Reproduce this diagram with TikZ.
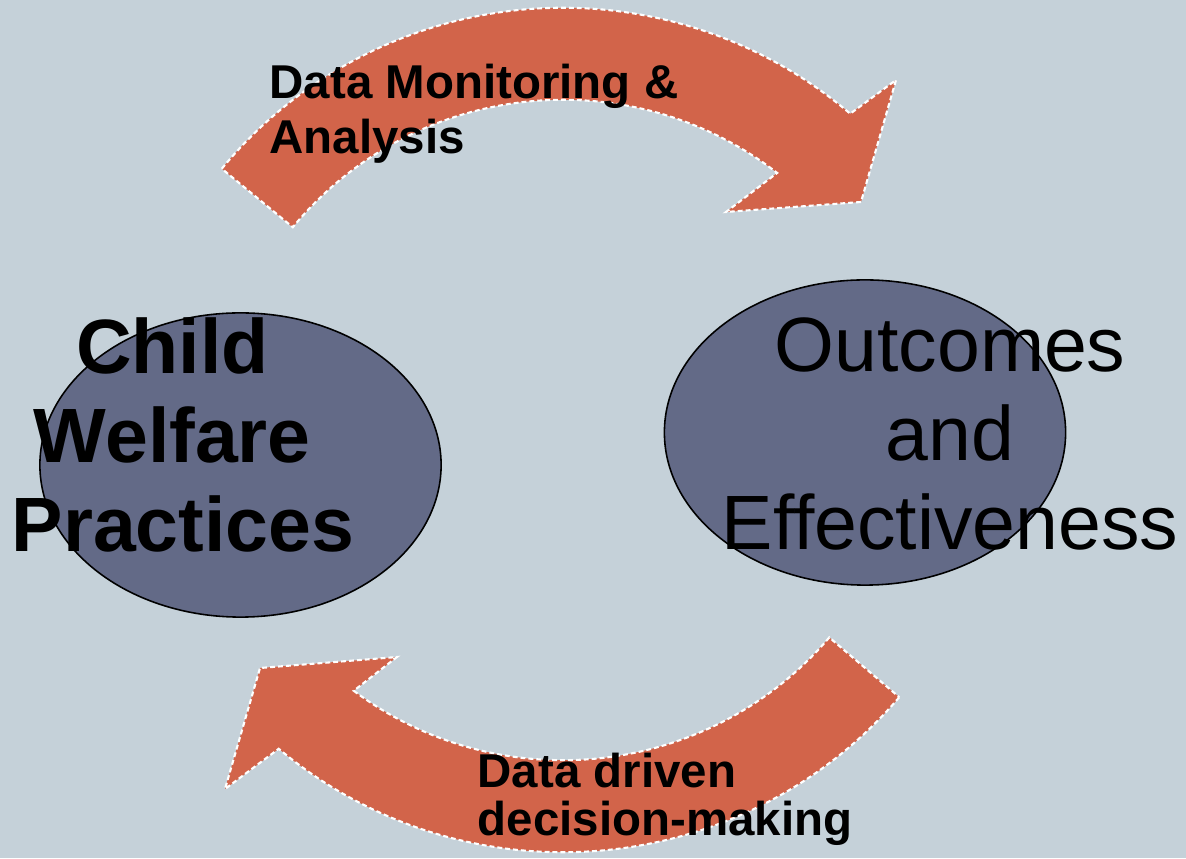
\documentclass[tikz,border=0pt]{standalone}
\usepackage{fontspec}
\setmainfont{Liberation Sans}
\usepackage{xcolor}
\usepackage{tikz}
\usetikzlibrary{calc}
\definecolor{slidebg}{HTML}{C5D1D9}
\definecolor{looprust}{HTML}{D2644A}
\definecolor{slatedark}{HTML}{636A87}

\begin{document}
\begin{tikzpicture}[x=0.01cm,y=0.01cm,
  looparrow/.style={fill=looprust,draw=white,line width=0.6pt,dash pattern=on 1.4pt off 0.85pt},
  blob/.style={fill=slatedark,draw=black,line width=0.45pt},
  bigtext/.style={inner sep=0pt,align=center,font=\fontsize{21.9}{25.3}\selectfont},
  bigbold/.style={bigtext,font=\bfseries\fontsize{21.9}{25.3}\selectfont},
  looplabel/.style={inner sep=0pt,align=left,anchor=north west}]
  \fill[slidebg] (0,0) rectangle (1186,858);
  \useasboundingbox (0,0) rectangle (1186,858);
  \coordinate (upper) at (563,408);
  \coordinate (lower) at (563,448);
  % top loop, pointing right
  \draw[looparrow] ($(upper)+(140.5:4.42cm)$) arc[start angle=140.5,end angle=49.5,radius=4.42cm]
    -- (896,778) -- (861,656) -- (726,646)
    -- ($(upper)+(52.3:3.5cm)$) arc[start angle=52.3,end angle=140.5,radius=3.5cm] -- cycle;
  % bottom loop, pointing left
  \draw[looparrow] ($(lower)+(-40.5:4.42cm)$) arc[start angle=-40.5,end angle=-130,radius=4.42cm]
    -- (225,69) -- (260,190) -- (397,201)
    -- ($(lower)+(-126.7:3.5cm)$) arc[start angle=-126.7,end angle=-40.5,radius=3.5cm] -- cycle;
  \draw[blob] (240.5,393) ellipse[x radius=2.005cm,y radius=1.52cm];
  \draw[blob] (865,425.5) ellipse[x radius=2.005cm,y radius=1.525cm];
  \node[bigbold] (practice) at (183,423) {Child\hphantom{\ }\\Welfare\hphantom{\ }\\Practices};
  \node[bigtext] (outcome) at (950,424) {Outcomes\\and\\Effectiveness};
  \node[looplabel,font=\bfseries\fontsize{13.5}{15.65}\selectfont] (monitor) at (269,795)
    {Data Monitoring \&\\Analysis};
  \node[looplabel,font=\bfseries\fontsize{13.5}{13.66}\selectfont] (decide) at (477,106)
    {Data driven\\decision-making};
\end{tikzpicture}
\end{document}
